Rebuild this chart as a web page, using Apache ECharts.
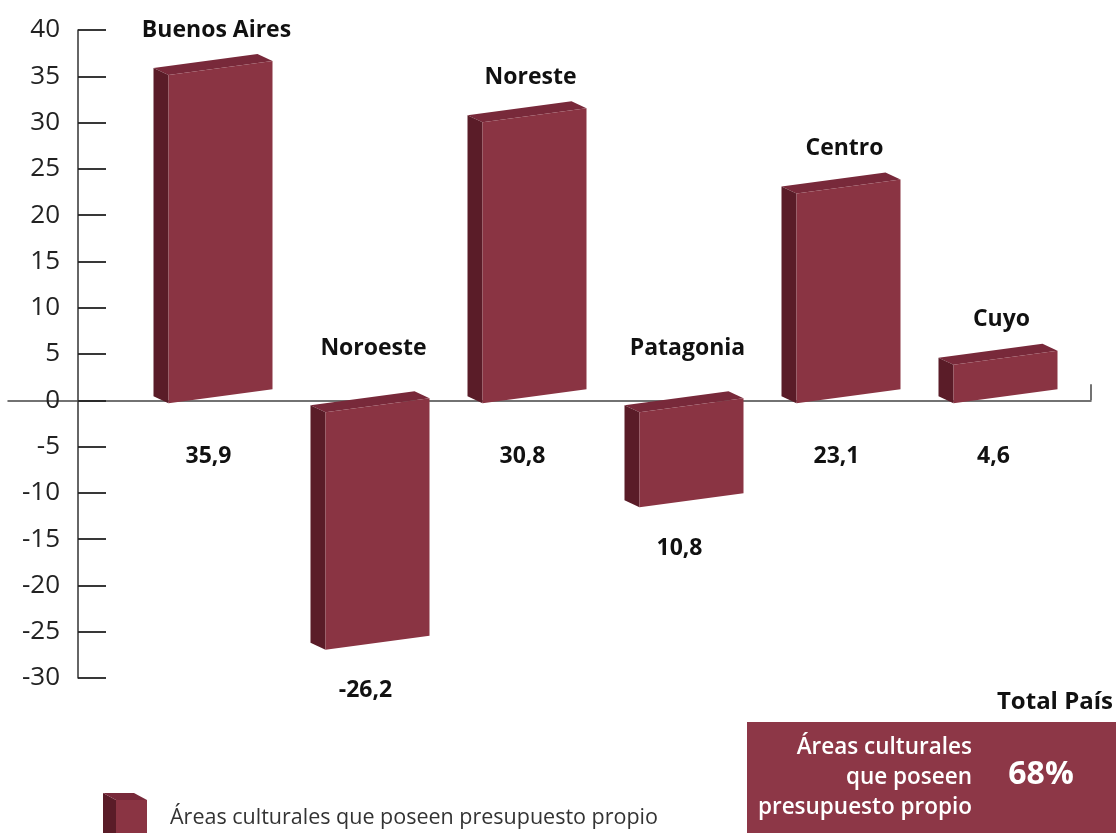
<!DOCTYPE html>
<html>
<head>
<meta charset="utf-8">
<script src="https://cdn.jsdelivr.net/npm/echarts@6/dist/echarts.min.js"></script>
<style>
  html, body { margin: 0; padding: 0; background: #fff; }
  #chart { width: 1116px; height: 833px; }
</style>
</head>
<body>
<div id="chart"></div>
<script>
// datos
var regiones = ['Buenos Aires', 'Noroeste', 'Noreste', 'Patagonia', 'Centro', 'Cuyo'];
var valores = [35.9, -26.2, 30.8, -10.8, 23.1, 4.6];
var etiquetas = ['35,9', '-26,2', '30,8', '10,8', '23,1', '4,6'];
var ticksY = [-30, -25, -20, -15, -10, -5, 0, 5, 10, 15, 20, 25, 30, 35, 40];
var nombreSerie = 'Áreas culturales que poseen presupuesto propio';
var totalPais = '68%';

var colorFrente = '#8a3443';
var colorLado = '#5a1c28';
var colorTapa = '#78293a';

// barra "3D" dibujada con las escalas de echarts
function renderBarra(params, api) {
    var i = api.value(0);
    var v = api.value(1);
    var c = api.coord([i, v]);
    var z = api.coord([i, 0]);
    var half = 52, k = 0.135, dx = -15, dy = -7;
    var xc = c[0];
    var base = v >= 0 ? z[1] - 4 : z[1] + 5;
    var arriba = Math.min(base, c[1]);
    var abajo = Math.max(base, c[1]);
    var xl = xc - half, xr = xc + half;
    var tl = [xl, arriba + k * half], tr = [xr, arriba - k * half];
    var br = [xr, abajo - k * half], bl = [xl, abajo + k * half];
    function mv(p) { return [p[0] + dx, p[1] + dy]; }

    var nombreY = v >= 0 ? c[1] - 38 : z[1] - 52;
    var valorY = v >= 0 ? z[1] + 56 : c[1] + 48;

    return {
        type: 'group',
        children: [
            { type: 'polygon', shape: { points: [tl, tr, mv(tr), mv(tl)] }, style: { fill: colorTapa } },
            { type: 'polygon', shape: { points: [tl, bl, mv(bl), mv(tl)] }, style: { fill: colorLado } },
            { type: 'polygon', shape: { points: [tl, tr, br, bl] }, style: { fill: colorFrente } },
            {
                type: 'text', x: xc - 4, y: nombreY,
                style: { text: regiones[i], fill: '#111', font: 'bold 23px "Open Sans"', align: 'center', verticalAlign: 'middle' }
            },
            {
                type: 'text', x: xc - 12, y: valorY,
                style: { text: etiquetas[i], fill: '#111', font: 'bold 23px "Open Sans"', align: 'center', verticalAlign: 'middle' }
            }
        ]
    };
}

var chart = echarts.init(document.getElementById('chart'));
chart.setOption({
    animation: false,
    backgroundColor: '#fff',
    grid: [
        { left: 142, right: 32, top: 30, bottom: 155 },
        { left: 8, right: 25, top: 30, bottom: 155 }
    ],
    legend: {
        data: [nombreSerie],
        left: 116, top: 800,
        padding: 0,
        icon: 'rect',
        itemWidth: 31, itemHeight: 36,
        textStyle: { fontSize: 21.5, color: '#333', fontFamily: 'Open Sans', padding: [0, 0, 0, 18] }
    },
    xAxis: [
        { type: 'category', gridIndex: 0, data: regiones, show: false },
        {
            type: 'value', gridIndex: 1, min: 0, max: 1, interval: 1,
            axisLine: { show: true, onZero: true, lineStyle: { color: '#444', width: 1.5 } },
            axisTick: { show: true, inside: true, length: 16, customValues: [1], lineStyle: { color: '#444', width: 1.5 } },
            axisLabel: { show: false },
            splitLine: { show: false }
        }
    ],
    yAxis: [
        {
            type: 'value', gridIndex: 0, min: -30, max: 40, interval: 5,
            offset: 64,
            axisLine: { show: true, lineStyle: { color: '#333', width: 1.5 } },
            axisTick: { show: true, inside: true, length: 28, lineStyle: { color: '#222', width: 1.8 } },
            axisLabel: {
                margin: 18, fontSize: 26, color: '#222', fontFamily: 'Open Sans',
                customValues: ticksY
            },
            splitLine: { show: false }
        },
        { type: 'value', gridIndex: 1, min: -30, max: 40, show: false }
    ],
    series: [
        {
            name: nombreSerie,
            type: 'custom',
            xAxisIndex: 0, yAxisIndex: 0,
            itemStyle: { color: colorFrente },
            renderItem: renderBarra,
            data: valores.map(function (v, i) { return [i, v]; })
        }
    ],
    graphic: [
        // lado y tapa del icono de la leyenda
        { type: 'polygon', shape: { points: [[116, 800], [116, 833], [103, 833], [103, 793]] }, style: { fill: colorLado } },
        { type: 'polygon', shape: { points: [[116, 800], [147, 800], [134, 793], [103, 793]] }, style: { fill: colorTapa } },
        {
            type: 'text', right: 3, top: 690,
            style: { text: 'Total País', font: 'bold 24px "Open Sans"', fill: '#111' }
        },
        {
            type: 'rect', shape: { x: 747, y: 722, width: 369, height: 111 },
            style: { fill: '#8d3747' }
        },
        {
            type: 'text', x: 972, y: 778,
            style: {
                text: 'Áreas culturales\nque poseen\npresupuesto propio',
                font: '600 22.5px "Open Sans"', fill: '#fff', align: 'right', verticalAlign: 'middle', lineHeight: 30
            }
        },
        {
            type: 'text', x: 1041, y: 775,
            style: { text: totalPais, font: 'bold 32px "Open Sans"', fill: '#fff', align: 'center', verticalAlign: 'middle' }
        }
    ]
});
</script>
</body>
</html>
